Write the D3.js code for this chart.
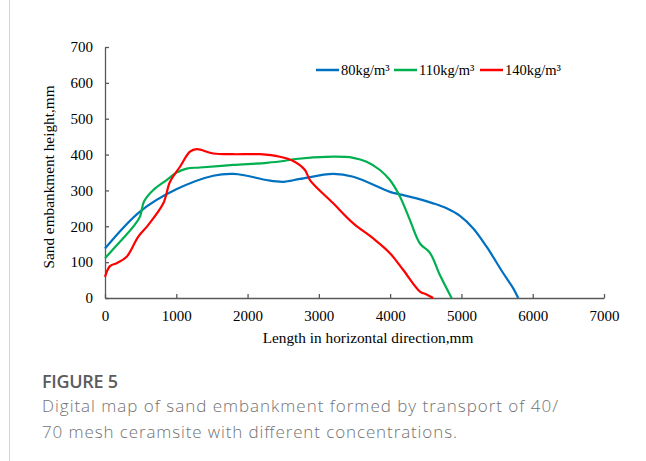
<!DOCTYPE html>
<html>
<head>
<meta charset="utf-8">
<script src="https://cdn.jsdelivr.net/npm/d3@7"></script>
<style>
  body { margin: 0; background: #fff; }
  svg { display: block; }
  .axis path, .axis line { stroke: #595959; }
  .axis text { font-family: "Liberation Serif", serif; font-size: 15px; fill: #000; }
</style>
</head>
<body>
<div id="chart"></div>
<script>
// distance along the channel (mm) and embankment height (mm)
const len_80 = [0, 491, 1000, 1519, 1800, 1987, 2267, 2500, 2735, 3200, 3483, 3997, 4133, 4371, 4604, 4792, 4979, 5166, 5353, 5587, 5727, 5797]
const h_80 = [138, 241, 303, 341, 346, 341, 329, 324, 332, 346, 338, 296, 289, 278, 264, 250, 229, 194, 143, 69, 27, 0]

const len_110 = [0, 210, 397, 491, 547, 678, 865, 996, 1145, 1332, 1800, 2267, 2500, 2641, 3200, 3483, 3670, 3857, 3997, 4137, 4278, 4418, 4558, 4698, 4862]
const h_110 = [111, 157, 199, 227, 269, 301, 329, 349, 361, 364, 371, 377, 382, 387, 394, 391, 380, 357, 329, 283, 217, 152, 126, 64, 0]

const len_140 = [0, 70, 164, 304, 467, 608, 818, 912, 1052, 1192, 1286, 1519, 1800, 2174, 2454, 2641, 2805, 2875, 3202, 3483, 3763, 3997, 4184, 4418, 4511, 4604]
const h_140 = [59, 89, 97, 115, 171, 204, 264, 324, 366, 408, 415, 403, 401, 401, 394, 382, 357, 329, 264, 208, 166, 125, 78, 18, 10, 0]

const series_names = ['80kg/m³', '110kg/m³', '140kg/m³']
const series_colors = ['#0070C0', '#00B050', '#FF0000']
const x_ticks = [0, 1000, 2000, 3000, 4000, 5000, 6000, 7000]
const y_ticks = [0, 100, 200, 300, 400, 500, 600, 700]

const width = 646, height = 461
const margin = {top: 47, left: 105, right: 42, bottom: 163}

const svg = d3.select('#chart').append('svg')
  .attr('width', width).attr('height', height)

// frame line on the left of the page
svg.append('line')
  .attr('x1', 9.5).attr('x2', 9.5).attr('y1', 0).attr('y2', height)
  .attr('stroke', '#d4d4d4').attr('stroke-width', 1)

const x = d3.scaleLinear().domain([0, 7000]).range([margin.left, width - margin.right])
const y = d3.scaleLinear().domain([0, 700]).range([height - margin.bottom, margin.top])

svg.append('g')
  .attr('class', 'axis')
  .attr('transform', 'translate(0,' + y(0) + ')')
  .call(d3.axisBottom(x).tickValues(x_ticks).tickFormat(d3.format('d'))
    .tickSize(-4).tickPadding(12).tickSizeOuter(0))
  .call(g => g.selectAll('path, line').attr('stroke-width', 1.3))

svg.append('g')
  .attr('class', 'axis')
  .attr('transform', 'translate(' + x(0) + ',0)')
  .call(d3.axisLeft(y).tickValues(y_ticks).tickFormat(d3.format('d'))
    .tickSize(-4).tickPadding(12).tickSizeOuter(0))
  .call(g => g.selectAll('path, line').attr('stroke-width', 1.3))

svg.append('text')
  .attr('x', 368).attr('y', 343)
  .attr('text-anchor', 'middle')
  .style('font-family', '"Liberation Serif", serif').style('font-size', '15.3px')
  .text('Length in horizontal direction,mm')

svg.append('text')
  .attr('transform', 'translate(54,177) rotate(-90)')
  .attr('text-anchor', 'middle')
  .style('font-family', '"Liberation Serif", serif').style('font-size', '15.3px')
  .text('Sand embankment height,mm')

const line = d3.line()
  .x(d => x(d[0])).y(d => y(d[1]))
  .curve(d3.curveCatmullRom.alpha(0.5))

const series = [
  d3.zip(len_80, h_80),
  d3.zip(len_110, h_110),
  d3.zip(len_140, h_140)
]

svg.selectAll('.series')
  .data(series)
  .enter().append('path')
  .attr('class', 'series')
  .attr('fill', 'none')
  .attr('stroke', (d, i) => series_colors[i])
  .attr('stroke-width', 2.2)
  .attr('d', line)

// legend
const legend_x = [316, 394, 480]
const legend = svg.selectAll('.legend')
  .data(series_names)
  .enter().append('g')
  .attr('class', 'legend')
  .attr('transform', (d, i) => 'translate(' + legend_x[i] + ',70)')
legend.append('line')
  .attr('x1', 0).attr('x2', 23)
  .attr('stroke', (d, i) => series_colors[i])
  .attr('stroke-width', 2.5)
legend.append('text')
  .attr('x', 25).attr('y', 5)
  .style('font-family', '"Liberation Serif", serif').style('font-size', '14.5px')
  .text(d => d)

// caption
svg.append('text')
  .attr('x', 42).attr('y', 388)
  .attr('textLength', 76).attr('lengthAdjust', 'spacing')
  .style('font-family', '"Open Sans", sans-serif').style('font-size', '18px')
  .style('fill', '#5c5c5c').style('font-weight', 600)
  .text('FIGURE 5')
const caption = ['Digital map of sand embankment formed by transport of 40/',
  '70 mesh ceramsite with different concentrations.']
const caption_len = [516, 415]
svg.selectAll('.caption')
  .data(caption)
  .enter().append('text')
  .attr('class', 'caption')
  .attr('x', 42).attr('y', (d, i) => 412 + i * 25.5)
  .attr('textLength', (d, i) => caption_len[i]).attr('lengthAdjust', 'spacing')
  .style('font-family', '"Open Sans", sans-serif').style('font-size', '17px')
  .style('fill', '#727272').style('font-weight', 300)
  .text(d => d)
</script>
</body>
</html>
